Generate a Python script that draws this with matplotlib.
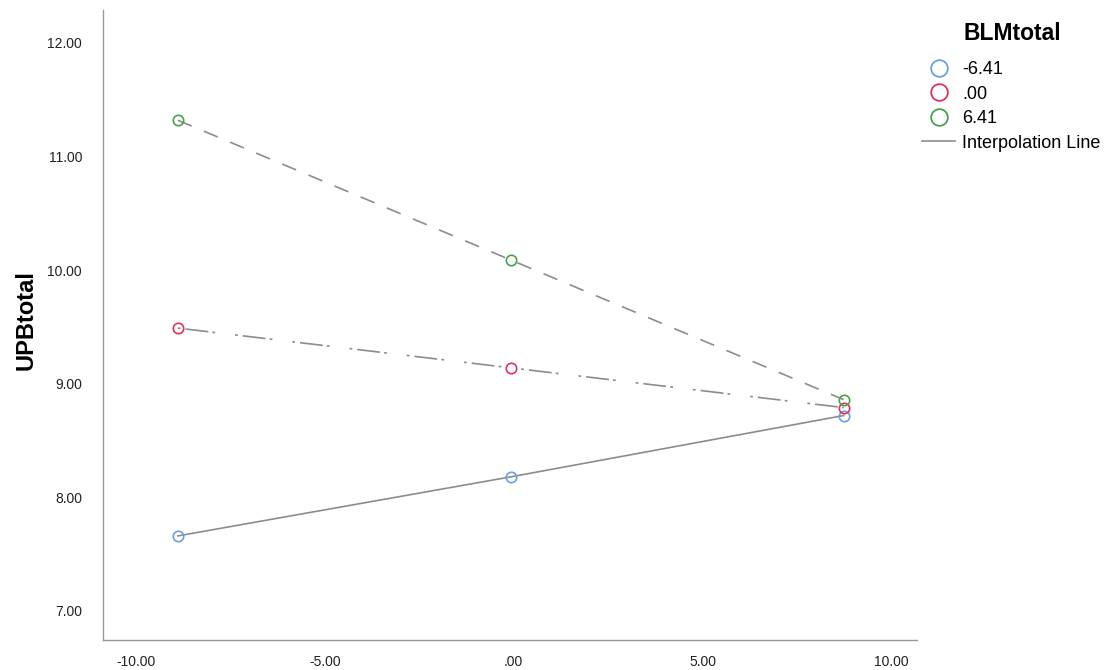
import matplotlib
matplotlib.use("Agg")
import matplotlib.pyplot as plt
from matplotlib.lines import Line2D

matplotlib.rcParams["font.family"] = ["Liberation Sans", "DejaVu Sans"]
matplotlib.rcParams["lines.scale_dashes"] = False

# Data (simple slopes)
x_values = [-8.89, -0.08, 8.73]
group_labels = ["-6.41", ".00", "6.41"]
upb_low = [7.66, 8.18, 8.72]
upb_mid = [9.49, 9.14, 8.79]
upb_high = [11.32, 10.09, 8.86]
series = [upb_low, upb_mid, upb_high]

marker_colors = ["#6a9fe2", "#e2325c", "#48a24c"]
line_styles = ["-", (0, (2, 3.6, 16.5, 3, 2, 14.4)), (0, (10.8, 9.6))]
line_color = "#8c8c8c"

x_ticks = [-10, -5, 0, 5, 10]
x_tick_labels = ["-10.00", "-5.00", ".00", "5.00", "10.00"]
y_ticks = [7, 8, 9, 10, 11, 12]
y_tick_labels = ["7.00", "8.00", "9.00", "10.00", "11.00", "12.00"]

fig = plt.figure(figsize=(11.07, 6.70), dpi=100)
ax = fig.add_axes([0.093, 0.045, 0.735, 0.94])

for vals, col, ls in zip(series, marker_colors, line_styles):
    ax.plot(x_values, vals, color=line_color, linewidth=1.2, linestyle=ls, zorder=2)
    ax.plot(x_values, vals, linestyle="none", marker="o", markersize=7.5,
            markerfacecolor="none", markeredgecolor=col, markeredgewidth=1.2, zorder=3)

ax.set_xlim(-10.87, 10.66)
ax.set_ylim(6.745, 12.29)
ax.set_xticks(x_ticks)
ax.set_xticklabels(x_tick_labels)
ax.set_yticks(y_ticks)
ax.set_yticklabels(y_tick_labels)
ax.tick_params(length=0, labelsize=10, colors="#222222")
ax.tick_params(axis="x", pad=11)
ax.tick_params(axis="y", pad=15)

for side in ["top", "right"]:
    ax.spines[side].set_visible(False)
for side in ["left", "bottom"]:
    ax.spines[side].set_color("#999999")
    ax.spines[side].set_linewidth(1.0)

ax.set_ylabel("UPBtotal", fontsize=17, fontweight="bold")
ax.yaxis.set_label_coords(-0.080, 0.507)

# legend: title as separate text so its gap can be matched
fig.text(1012 / 1107, 1 - 34 / 670, "BLMtotal", fontsize=16.5, fontweight="bold",
         ha="center", va="center")
handles = [Line2D([], [], linestyle="none", marker="o", markersize=12,
                  markerfacecolor="none", markeredgecolor=c, markeredgewidth=1.3)
           for c in marker_colors]
handles.append(Line2D([], [], color=line_color, linewidth=1.2))
labels = group_labels + ["Interpolation Line"]
leg = fig.legend(handles, labels, loc="upper left",
                 bbox_to_anchor=(922 / 1107, 1 - 61 / 670), frameon=False, fontsize=13,
                 handlelength=1.83, handletextpad=0.4, labelspacing=0.42,
                 borderpad=0.0, borderaxespad=0.0)

fig.savefig("out.png", dpi=100)
